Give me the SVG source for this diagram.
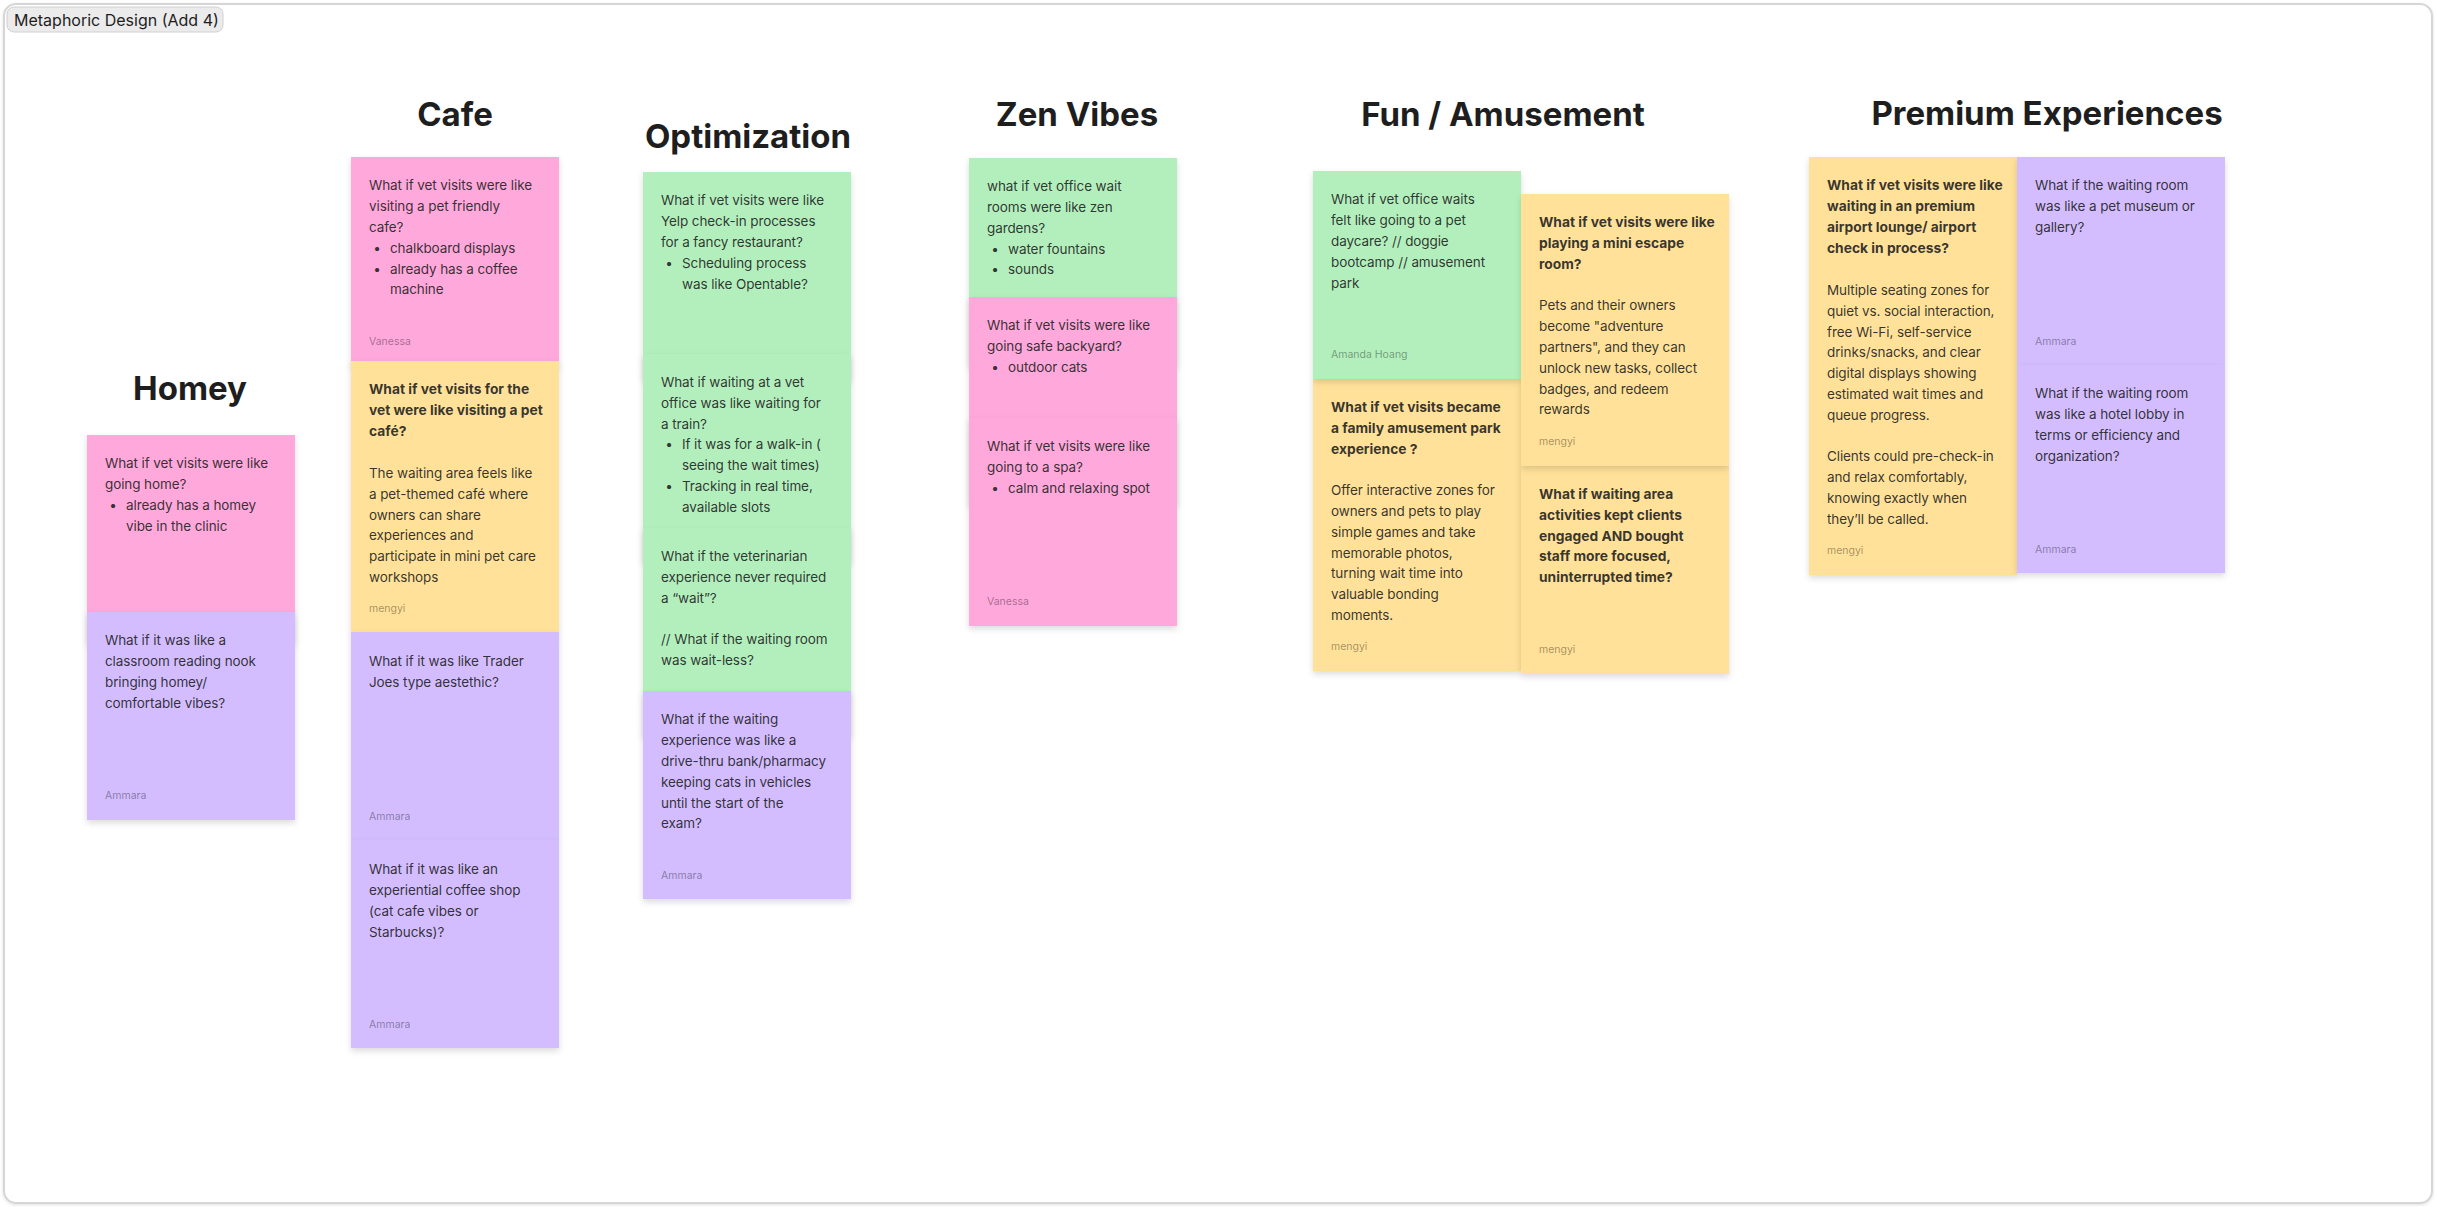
<svg xmlns="http://www.w3.org/2000/svg" width="2437" height="1207" viewBox="0 0 2437 1207">
<defs>
<filter id="sh" x="-10%" y="-10%" width="120%" height="125%">
<feDropShadow dx="0" dy="3" stdDeviation="3" flood-color="#000" flood-opacity="0.14"/>
</filter>
<filter id="fsh" x="-1%" y="-1%" width="102%" height="102%">
<feDropShadow dx="0" dy="1" stdDeviation="1.5" flood-color="#000" flood-opacity="0.12"/>
</filter>
</defs>
<style>
text{font-family:Inter,"Noto Sans","Liberation Sans",sans-serif;}
.t{font-size:13.5px;letter-spacing:-0.1px;fill:#1e1e1e;fill-opacity:0.9}
.b{font-weight:700;font-size:13.8px;letter-spacing:0}
.a{font-size:10.5px;fill:#000;fill-opacity:0.38;letter-spacing:0}
.h{font-size:33px;font-weight:700;fill:#1e1e1e;text-anchor:middle}
.s{filter:url(#sh)}
.pk{fill:#FFA8DB}
.yl{fill:#FFE199}
.gr{fill:#B3EFBD}
.pu{fill:#D3BDFF}
.bu{text-anchor:middle}
</style>
<rect x="0" y="0" width="2437" height="1207" fill="#ffffff"/>
<g id="frame">
<rect x="4" y="4" width="2428" height="1199" rx="12" fill="#ffffff" stroke="#d6d6d6" stroke-width="2" filter="url(#fsh)"/>
<rect x="7" y="7" width="216" height="25" rx="7" fill="#ebebeb" stroke="#d0d0d0" stroke-width="1"/>
<text x="14" y="26" style="font-size:16px;fill:#1e1e1e">Metaphoric Design (Add 4)</text>
</g>
<g id="titles">
<text class="h" x="190" y="400">Homey</text>
<text class="h" x="455" y="126">Cafe</text>
<text class="h" x="748" y="148">Optimization</text>
<text class="h" x="1077" y="126">Zen Vibes</text>
<text class="h" x="1503" y="126">Fun / Amusement</text>
<text class="h" x="2047" y="125">Premium Experiences</text>
</g>
<g id="connectors"></g>

<!-- Homey -->
<g id="homey-1">
<rect class="s pk" x="87" y="435" width="208" height="208"/>
<text class="t" x="105" y="468">What if vet visits were like</text>
<text class="t" x="105" y="489">going home?</text>
<text class="t bu" x="113" y="510">•</text>
<text class="t" x="126" y="510">already has a homey</text>
<text class="t" x="126" y="531">vibe in the clinic</text>
</g>
<g id="homey-2">
<rect class="s pu" x="87" y="612" width="208" height="208"/>
<text class="t" x="105" y="645">What if it was like a</text>
<text class="t" x="105" y="666">classroom reading nook</text>
<text class="t" x="105" y="687">bringing homey/</text>
<text class="t" x="105" y="708">comfortable vibes?</text>
<text class="a" x="105" y="799">Ammara</text>
</g>

<!-- Cafe -->
<g id="cafe-1">
<rect class="s pk" x="351" y="157" width="208" height="208"/>
<text class="t" x="369" y="190">What if vet visits were like</text>
<text class="t" x="369" y="211">visiting a pet friendly</text>
<text class="t" x="369" y="232">cafe?</text>
<text class="t bu" x="377" y="253">•</text>
<text class="t" x="390" y="253">chalkboard displays</text>
<text class="t bu" x="377" y="274">•</text>
<text class="t" x="390" y="274">already has a coffee</text>
<text class="t" x="390" y="294">machine</text>
<text class="a" x="369" y="345">Vanessa</text>
</g>
<g id="cafe-2">
<rect class="s yl" x="351" y="361" width="208" height="272"/>
<text class="t b" x="369" y="394">What if vet visits for the</text>
<text class="t b" x="369" y="415">vet were like visiting a pet</text>
<text class="t b" x="369" y="436">café?</text>
<text class="t" x="369" y="478">The waiting area feels like</text>
<text class="t" x="369" y="499">a pet-themed café where</text>
<text class="t" x="369" y="520">owners can share</text>
<text class="t" x="369" y="540">experiences and</text>
<text class="t" x="369" y="561">participate in mini pet care</text>
<text class="t" x="369" y="582">workshops</text>
<text class="a" x="369" y="612">mengyi</text>
</g>
<g id="cafe-3">
<rect class="s pu" x="351" y="632" width="208" height="208"/>
<text class="t" x="369" y="666">What if it was like Trader</text>
<text class="t" x="369" y="687">Joes type aestethic?</text>
<text class="a" x="369" y="820">Ammara</text>
</g>
<g id="cafe-4">
<rect class="s pu" x="351" y="840" width="208" height="208"/>
<text class="t" x="369" y="874">What if it was like an</text>
<text class="t" x="369" y="895">experiential coffee shop</text>
<text class="t" x="369" y="916">(cat cafe vibes or</text>
<text class="t" x="369" y="937">Starbucks)?</text>
<text class="a" x="369" y="1028">Ammara</text>
</g>

<!-- Optimization -->
<g id="opt-1">
<rect class="s gr" x="643" y="172" width="208" height="208"/>
<text class="t" x="661" y="205">What if vet visits were like</text>
<text class="t" x="661" y="226">Yelp check-in processes</text>
<text class="t" x="661" y="247">for a fancy restaurant?</text>
<text class="t bu" x="669" y="268">•</text>
<text class="t" x="682" y="268">Scheduling process</text>
<text class="t" x="682" y="289">was like Opentable?</text>
</g>
<g id="opt-2">
<rect class="s gr" x="643" y="354" width="208" height="208"/>
<text class="t" x="661" y="387">What if waiting at a vet</text>
<text class="t" x="661" y="408">office was like waiting for</text>
<text class="t" x="661" y="429">a train?</text>
<text class="t bu" x="669" y="449">•</text>
<text class="t" x="682" y="449">If it was for a walk-in (</text>
<text class="t" x="682" y="470">seeing the wait times)</text>
<text class="t bu" x="669" y="491">•</text>
<text class="t" x="682" y="491">Tracking in real time,</text>
<text class="t" x="682" y="512">available slots</text>
</g>
<g id="opt-3">
<rect class="s gr" x="643" y="528" width="208" height="208"/>
<text class="t" x="661" y="561">What if the veterinarian</text>
<text class="t" x="661" y="582">experience never required</text>
<text class="t" x="661" y="603">a “wait”?</text>
<text class="t" x="661" y="644">// What if the waiting room</text>
<text class="t" x="661" y="665">was wait-less?</text>
</g>
<g id="opt-4">
<rect class="s pu" x="643" y="691" width="208" height="208"/>
<text class="t" x="661" y="724">What if the waiting</text>
<text class="t" x="661" y="745">experience was like a</text>
<text class="t" x="661" y="766">drive-thru bank/pharmacy</text>
<text class="t" x="661" y="787">keeping cats in vehicles</text>
<text class="t" x="661" y="808">until the start of the</text>
<text class="t" x="661" y="828">exam?</text>
<text class="a" x="661" y="879">Ammara</text>
</g>

<!-- Zen Vibes -->
<g id="zen-1">
<rect class="s gr" x="969" y="158" width="208" height="208"/>
<text class="t" x="987" y="191">what if vet office wait</text>
<text class="t" x="987" y="212">rooms were like zen</text>
<text class="t" x="987" y="233">gardens?</text>
<text class="t bu" x="995" y="254">•</text>
<text class="t" x="1008" y="254">water fountains</text>
<text class="t bu" x="995" y="274">•</text>
<text class="t" x="1008" y="274">sounds</text>
</g>
<g id="zen-2">
<rect class="s pk" x="969" y="297" width="208" height="208"/>
<text class="t" x="987" y="330">What if vet visits were like</text>
<text class="t" x="987" y="351">going safe backyard?</text>
<text class="t bu" x="995" y="372">•</text>
<text class="t" x="1008" y="372">outdoor cats</text>
</g>
<g id="zen-3">
<rect class="s pk" x="969" y="418" width="208" height="208"/>
<text class="t" x="987" y="451">What if vet visits were like</text>
<text class="t" x="987" y="472">going to a spa?</text>
<text class="t bu" x="995" y="493">•</text>
<text class="t" x="1008" y="493">calm and relaxing spot</text>
<text class="a" x="987" y="605">Vanessa</text>
</g>

<!-- Fun / Amusement -->
<g id="fun-2">
<rect class="s yl" x="1313" y="379" width="208" height="292"/>
<text class="t b" x="1331" y="412">What if vet visits  became</text>
<text class="t b" x="1331" y="433">a family amusement park</text>
<text class="t b" x="1331" y="454">experience ?</text>
<text class="t" x="1331" y="495">Offer interactive zones for</text>
<text class="t" x="1331" y="516">owners and pets to play</text>
<text class="t" x="1331" y="537">simple games and take</text>
<text class="t" x="1331" y="558">memorable photos,</text>
<text class="t" x="1331" y="578">turning wait time into</text>
<text class="t" x="1331" y="599">valuable bonding</text>
<text class="t" x="1331" y="620">moments.</text>
<text class="a" x="1331" y="650">mengyi</text>
</g>
<g id="fun-1">
<rect class="s gr" x="1313" y="171" width="208" height="208"/>
<text class="t" x="1331" y="204">What if vet office waits</text>
<text class="t" x="1331" y="225">felt like going to a pet</text>
<text class="t" x="1331" y="246">daycare? // doggie</text>
<text class="t" x="1331" y="267">bootcamp // amusement</text>
<text class="t" x="1331" y="288">park</text>
<text class="a" x="1331" y="358">Amanda Hoang</text>
</g>
<g id="fun-4">
<rect class="s yl" x="1521" y="466" width="208" height="208"/>
<text class="t b" x="1539" y="499">What if waiting area</text>
<text class="t b" x="1539" y="520">activities kept clients</text>
<text class="t b" x="1539" y="541">engaged AND bought</text>
<text class="t b" x="1539" y="561">staff more focused,</text>
<text class="t b" x="1539" y="582">uninterrupted time?</text>
<text class="a" x="1539" y="653">mengyi</text>
</g>
<g id="fun-3">
<rect class="s yl" x="1521" y="194" width="208" height="272"/>
<text class="t b" x="1539" y="227">What if vet visits were like</text>
<text class="t b" x="1539" y="248">playing a mini escape</text>
<text class="t b" x="1539" y="269">room?</text>
<text class="t" x="1539" y="310">Pets and their owners</text>
<text class="t" x="1539" y="331">become "adventure</text>
<text class="t" x="1539" y="352">partners", and they can</text>
<text class="t" x="1539" y="373">unlock new tasks, collect</text>
<text class="t" x="1539" y="394">badges, and redeem</text>
<text class="t" x="1539" y="414">rewards</text>
<text class="a" x="1539" y="445">mengyi</text>
</g>

<!-- Premium Experiences -->
<g id="prem-1">
<rect class="s yl" x="1809" y="157" width="208" height="418"/>
<text class="t b" x="1827" y="190">What if vet visits were like</text>
<text class="t b" x="1827" y="211">waiting in an premium</text>
<text class="t b" x="1827" y="232">airport lounge/ airport</text>
<text class="t b" x="1827" y="253">check in process?</text>
<text class="t" x="1827" y="295">Multiple seating zones for</text>
<text class="t" x="1827" y="316">quiet vs. social interaction,</text>
<text class="t" x="1827" y="337">free Wi-Fi, self-service</text>
<text class="t" x="1827" y="357">drinks/snacks, and clear</text>
<text class="t" x="1827" y="378">digital displays showing</text>
<text class="t" x="1827" y="399">estimated wait times and</text>
<text class="t" x="1827" y="420">queue progress.</text>
<text class="t" x="1827" y="461">Clients could pre-check-in</text>
<text class="t" x="1827" y="482">and relax comfortably,</text>
<text class="t" x="1827" y="503">knowing exactly when</text>
<text class="t" x="1827" y="524">they’ll be called.</text>
<text class="a" x="1827" y="554">mengyi</text>
</g>
<g id="prem-2">
<rect class="s pu" x="2017" y="157" width="208" height="208"/>
<text class="t" x="2035" y="190">What if the waiting room</text>
<text class="t" x="2035" y="211">was like a pet museum or</text>
<text class="t" x="2035" y="232">gallery?</text>
<text class="a" x="2035" y="345">Ammara</text>
</g>
<g id="prem-3">
<rect class="s pu" x="2017" y="365" width="208" height="208"/>
<text class="t" x="2035" y="398">What if the waiting room</text>
<text class="t" x="2035" y="419">was like a hotel lobby in</text>
<text class="t" x="2035" y="440">terms or efficiency and</text>
<text class="t" x="2035" y="461">organization?</text>
<text class="a" x="2035" y="553">Ammara</text>
</g>
</svg>
